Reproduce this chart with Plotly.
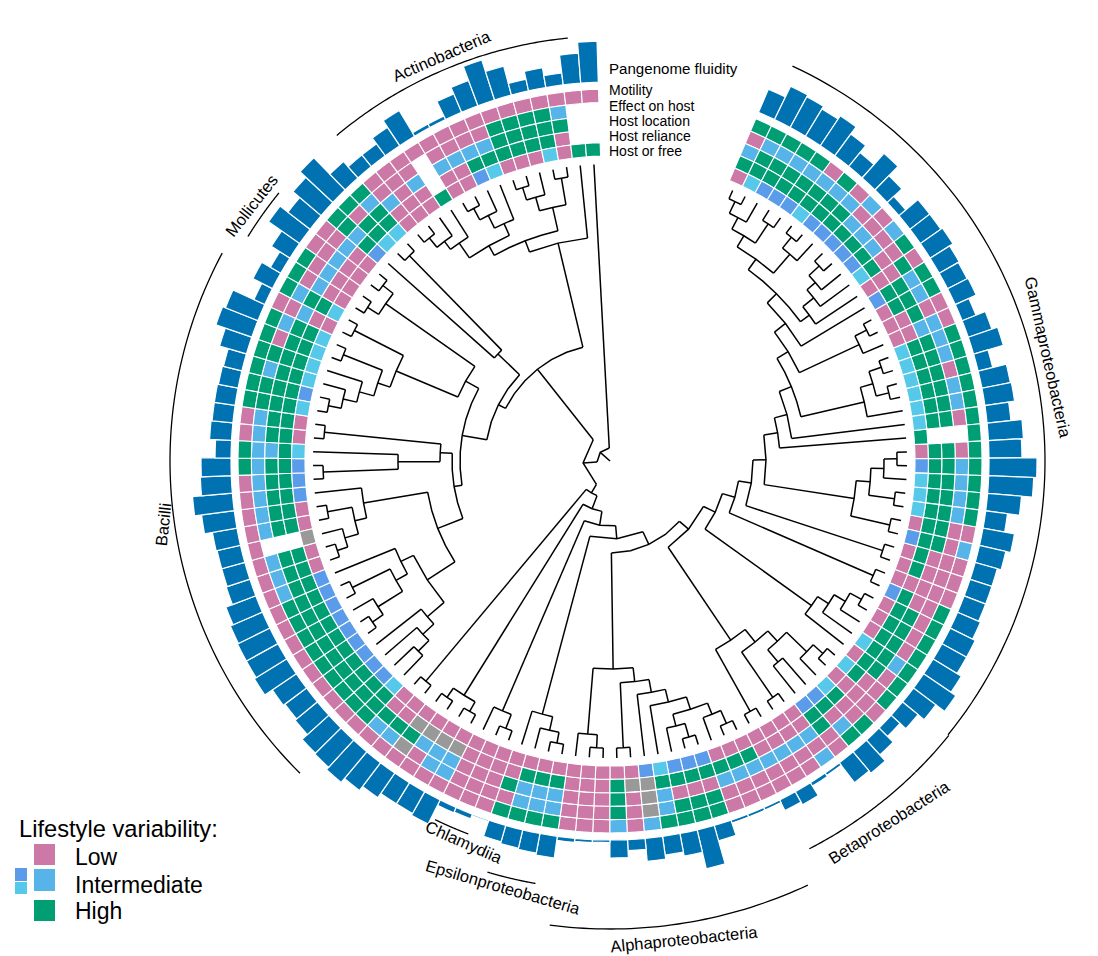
import numpy as np
import plotly.graph_objects as go

# Traits per leaf, clockwise from the gap; rings listed outer to inner:
# Motility, Effect on host, Host location, Host reliance, Host or free
LEAF_TRAITS = [
 "HLIHL","HIHHC","HIHHB","HIHHB","HIHHB","LIHHC","HIHHB","LIHHB","ILIHB","LLIHB",
 "ILIHB","HLLHC","LHLLL","HIHHB","HIHHL","LLHLL","LIILL","HIHHC","HIHHC","HLHHC",
 "HIHHC","HIHHC","HLHHC","H___H","HLHHL","HIHHB","HIHHC","HIHHC","HIHHC","LLHHL",
 "ILHHB","LLLHL","LLLHL","LLLLL","HLLHB","HLHHL","HLHHL","HLHHL","HIHHC","HLHHL",
 "HLLHC","LLLLL","HLLHC","HILHB","LLHHB","ILILL","LLILL","LLILL","LLILL","LLIHL",
 "LLIHL","LLIHL","HHLHB","HHLHB","HHLHB","HIIHC","IGGGB","LLLGL","IHHHL","LLLLL",
 "LLLLL","LLLLL","HIIHL","HIIHL","HIIHL","HLHLL","LLLLL","LLLLL","LLLLL","LIIGL",
 "LIIGL","LLIGL","LGHGL","LIHLL","LIHLL","LHHHC","LHHHB","LHHHB","LHHHB","LHHHB",
 "LHHHB","LHHHB","LHHHB","LHHHB","LIHHB","LIHHL","LIHHL","L___G","LIHHL","LIHHL",
 "LIHHB","LIHHB","HIHHB","HIIHC","LIHHL","LIHHL","HHHHC","HHHHB","HIHHC","HHHHC",
 "HLHHC","HIHHC","LLILL","HIHHC","HLILL","HLILL","LLILL","LLILL","HHIHB","HLHHC",
 "HIHHC","LLILL","LLLLL","LLILL","L___H","LLILL","LLILL","LLIHB","LLIHC","LHHHL",
 "LHHHL","LHHHL","LHHHC","LIHLL","L___H","L___H"]

FLUIDITY = [25,37,35,32,36,27,18,33,20,9,25,25,27,23,22,23,15,25,31,15,29,30,24,35,33,48,45,34,22,32,
 27,23,23,23,25,28,28,33,39,28,20,12,20,28,25,3,4,15,12,3,3,3,16,40,23,19,23,11,18,2.5,
 3,4,22,20,19,17,1.5,5,6,27,25,25,30,35,40,37,36,29,27,29,38,36,36,35,32,25,24,24,25,33,
 40,31,30,16,22,21,21,20,19,28,38,35,12,22,12,22,38,28,37,45,22,15,15,22,30,4,4,20,27,42,
 30,12,20,12,30,41]

RING_LABELS = ["Motility","Effect on host","Host location","Host reliance","Host or free"]
CLADES = ["Actinobacteria","Mollicutes","Gammaproteobacteria","Bacilli","Betaproteobacteria",
          "Epsilonproteobacteria","Chlamydiia"]
CLADE_R     = [425,426,435,440,436,429,399]
CLADE_START = [320,301.8,24.8,224.8,129,190,200.8]
CLADE_END   = [354.3,309,129,298.2,152.8,196.6,206]
ALPHA_NAME, ALPHA_R, ALPHA_START, ALPHA_END = "Alphaproteobacteria", 468, 155, 187.4
LEGEND_LABELS = ["Low","Intermediate","High"]

# Phylogeny: [node radius, child, child]; 0 is a leaf, taken in clockwise order
T13 = [275,[288,0,0],0]
T15 = [262,T13,[285,0,0]]
T68 = [274,[288,0,0],0]
T18 = [249,T15,T68]
T913 = [247,[261,[272,[286,0,0],0],0],0]
T113 = [236,T18,T913]
T114 = [223,T113,0]
T1517 = [275,[288,0,0],0]
T117 = [209,T114,T1517]
T1822 = [261,[274,[287,0,0],[287,0,0]],0]
T122 = [196,T117,T1822]
T124 = [170,[183,T122,0],0]
T2529 = [261,[274,[287,0,0],0],[287,0,0]]
T2531 = [247,T2529,[287,0,0]]
T131 = [156,T124,T2531]
T135 = [130,[143,T131,[287,0,0]],[287,0,0]]
T3640 = [248,[261,[274,[287,0,0],0],0],0]
T140 = [117,T135,T3640]
BETA = [216,[232,[246,[274,[287,0,0],0],[262,0,0]],[287,0,0]],[287,0,0]]
T149 = [104,T140,BETA]
ALPHA = [208,[222,[235,[248,[261,[273,[287,0,0],0],[273,[287,0,0],0]],0],0],[287,0,0]],[274,[287,0,0],0]]
EPSILON = [262,[276,[287,0,0],0],0]
CHLAMYDIA = [272,[287,0,0],0]
T173 = [51,[65,[78,[92,T149,ALPHA],EPSILON],CHLAMYDIA],[276,[287,0,0],[287,0,0]]]
LOWER = [37,T173,[287,0,0]]
B7679 = [240,[255,[270,0,0],0],0]
B8085 = [232,[245,[274,[287,0,0],0],[287,0,0]],0]
B8691 = [250,[262,[276,[287,0,0],0],[287,0,0]],0]
B7691 = [185,[218,B7679,B8085],B8691]
B9296 = [170,[212,[287,0,0],0],[287,0,0]]
B9702 = [245,[260,[274,[287,0,0],0],0],[287,0,0]]
MOLLICUTES = [274,[287,0,0],[287,0,0]]
B9708 = [165,[232,B9702,[287,0,0]],MOLLICUTES]
FIRM = [150,[158,B7691,B9296],B9708]
F0 = [125,FIRM,[155,0,[287,0,0]]]
A1215 = [265,[275,[287,0,0],0],0]
A1619 = [260,[274,[287,0,0],0],0]
A2024 = [260,[274,[287,0,0],0],[287,0,0]]
ACTINO = [224,[236,[247,A1215,A1619],A2024],0]
TREE = [13,[27,LOWER,[117,F0,ACTINO]],0]

# layout of the rings, in plot pixels (radial axis unit)
FIRST_ANGLE, PITCH = 24.4, 2.66
RING_BASE, RING_W = 305.0, 13.4
BAR_BASE = 379.0
CX, CY, R = 610.0, 461.0, 461.0
W, H = 1098, 956

COLORS = {"L":"#CC79A7","I":"#56B4E9","H":"#009E73","B":"#5A9BEA","C":"#56C8E9","G":"#999999"}
NAMES = {"L":"Low","I":"Intermediate","H":"High","B":"Intermediate (blue)","C":"Intermediate (cyan)","G":"Unknown"}

n = len(LEAF_TRAITS)
theta = [FIRST_ANGLE + PITCH*i for i in range(n)]

fig = go.Figure()

# heat rings
for code, col in COLORS.items():
    th, base = [], []
    for i, tr in enumerate(LEAF_TRAITS):
        for j, c in enumerate(tr):
            if c == code:
                th.append(theta[i])
                base.append(RING_BASE + RING_W*(4-j))
    fig.add_trace(go.Barpolar(theta=th, base=base, r=[RING_W]*len(th), width=[PITCH]*len(th),
                              marker=dict(color=col, line=dict(color="white", width=1.1)),
                              name=NAMES[code], showlegend=False, opacity=1))

# fluidity bars
fig.add_trace(go.Barpolar(theta=theta, base=[BAR_BASE]*n, r=FLUIDITY, width=[PITCH]*n,
                          marker=dict(color="#0072B2", line=dict(color="white", width=1.2)),
                          name="Pangenome fluidity", showlegend=False))

# tree
tx, ty = [], []
counter = [0]
def arc(r, a, b):
    L = abs(b-a)*np.pi/180*r
    k = max(1, int(round(L/20)))
    return list(np.linspace(a, b, k+1)), [r]*(k+1)
def walk(node):
    if node == 0:
        t = theta[counter[0]]
        counter[0] += 1
        return t, 297.0
    r, a, b = node
    ta, ra = walk(a)
    tb, rb = walk(b)
    for t_, r_ in ((ta, ra), (tb, rb)):
        tx.extend([t_, t_, None]); ty.extend([r, r_, None])
    mid = (ta+tb)/2
    t1, r1 = arc(r, ta, mid)
    t2, r2 = arc(r, mid, tb)
    tx.extend(t1+t2[1:]+[None]); ty.extend(r1+r2[1:]+[None])
    return mid, r
root_t, root_r = walk(TREE)
assert counter[0] == n, counter[0]
tx.extend([root_t, root_t, None]); ty.extend([0, TREE[0], None])
fig.add_trace(go.Scatterpolar(theta=tx, r=ty, mode="lines", line=dict(color="black", width=1.5),
                              cliponaxis=False, showlegend=False, hoverinfo="skip", name="Tree"))

# clade arcs
for nm, rr, a, b in zip(CLADES, CLADE_R, CLADE_START, CLADE_END):
    t = np.linspace(a, b, 80)
    fig.add_trace(go.Scatterpolar(theta=t, r=[rr]*80, mode="lines", line=dict(color="black", width=1.3),
                                  cliponaxis=False, showlegend=False, hoverinfo="skip", name=nm))
# the Alphaproteobacteria arc lies beyond the top-fitted circle: a second polar sector holds it
t = np.linspace(ALPHA_START, ALPHA_END, 40)
fig.add_trace(go.Scatterpolar(theta=t, r=[ALPHA_R]*40, mode="lines", line=dict(color="black", width=1.3),
                              subplot="polar2", cliponaxis=False, showlegend=False, hoverinfo="skip",
                              name=ALPHA_NAME))

def ann(text, px, py, size=14, angle=0, anchor="center"):
    fig.add_annotation(text=text, x=px/W, y=1-py/H, xref="paper", yref="paper", showarrow=False,
                       textangle=angle, xanchor=anchor, yanchor="middle", borderpad=0,
                       font=dict(family="Liberation Sans, Arial", size=size, color="black"))

TEXT_NAMES = ["Actinobacteria","Mollicutes","Gammaproteobacteria","Bacilli","Betaproteobacteria",
              "Alphaproteobacteria","Epsilonproteobacteria","Chlamydiia"]
CLADE_TEXT_POS = [(441,56,-23.5),(251,206,-52),(1048,357,77.5),(163,525,-84),(889,822,-32.5),
                  (684,938.5,-5.8),(503,887,16),(464,842,24)]
for nm, (px, py, ang) in zip(TEXT_NAMES, CLADE_TEXT_POS):
    ann(nm, px, py, 16.5, ang)

ann("Pangenome fluidity", 608, 68, 15.1, 0, "left")
for lab, py in zip(RING_LABELS, [90,105.5,120.7,135.6,150.5]):
    ann(lab, 608, py, 14, 0, "left")

ann("Lifestyle variability:", 18, 829, 23.7, 0, "left")
for lab, py in zip(LEGEND_LABELS, [857,885,911]):
    ann(lab, 74, py, 23, 0, "left")

def rect(x0, y0, x1, y1, col):
    fig.add_shape(type="rect", xref="paper", yref="paper", x0=x0/W, x1=x1/W, y0=1-y0/H, y1=1-y1/H,
                  fillcolor=col, line=dict(width=0))
rect(34,844,55,865,COLORS["L"]); rect(34,869,55,891,COLORS["I"]); rect(34,900,55,921,COLORS["H"])
rect(15,868,27,881,COLORS["B"]); rect(15,882,27,894,COLORS["C"])

AR = 480.0
fig.update_layout(
    width=W, height=H, margin=dict(l=0, r=0, t=0, b=0), paper_bgcolor="white", showlegend=False,
    polar=dict(
        domain=dict(x=[(CX-R)/W, (CX+R)/W], y=[1-(CY+R)/H, 1-(CY-R)/H]),
        bgcolor="rgba(0,0,0,0)", bargap=0, barmode="overlay",
        radialaxis=dict(visible=False, range=[0, R]),
        angularaxis=dict(visible=False, rotation=90, direction="clockwise", thetaunit="degrees"),
    ),
    polar2=dict(
        sector=[-100, -60],
        domain=dict(x=[(CX-AR*np.sin(np.radians(10)))/W, (CX+AR*0.5)/W], y=[1-(CY+AR)/H, 1-CY/H]),
        bgcolor="rgba(0,0,0,0)",
        radialaxis=dict(visible=False, range=[0, AR]),
        angularaxis=dict(visible=False, rotation=90, direction="clockwise", thetaunit="degrees"),
    ),
)
fig.write_html("out.html", post_script="document.body.style.margin='0';", config={"displayModeBar": False})
